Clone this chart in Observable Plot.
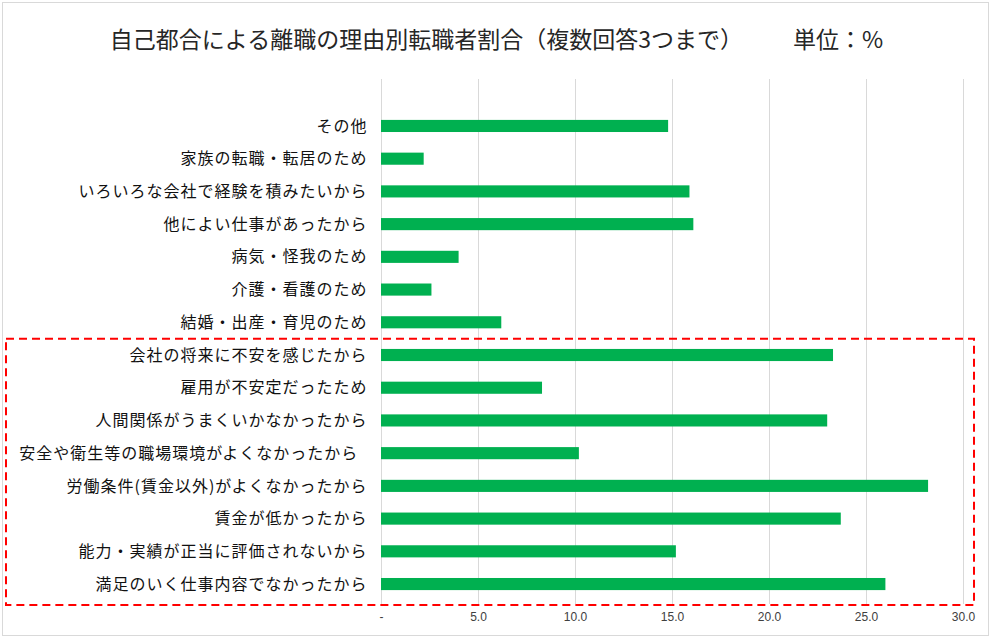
<!DOCTYPE html>
<html><head><meta charset="utf-8">
<script src="https://cdn.jsdelivr.net/npm/d3@7"></script>
<script src="https://cdn.jsdelivr.net/npm/@observablehq/plot@0.6"></script>
<style>
body{margin:0;background:#fff;}
#wrap{position:relative;width:993px;height:640px;overflow:hidden;background:#fff;}
#frame{position:absolute;left:2px;top:2px;width:987px;height:634px;border:1px solid #d9d9d9;box-sizing:border-box;pointer-events:none;}
#title{height:46px;padding-top:24px;text-align:center;font-family:"Noto Sans CJK JP",sans-serif;font-size:23px;line-height:28px;color:#262626;white-space:nowrap;}
#title .unit{margin-left:50px;}
#chart svg{display:block;}
</style>
</head><body>
<div id="wrap">
<div id="frame"></div>
<div id="title">自己都合による離職の理由別転職者割合（複数回答3つまで）<span class="unit">単位：%</span></div>
<div id="chart"></div>
</div>
<script>
const categories = [
  "その他",
  "家族の転職・転居のため",
  "いろいろな会社で経験を積みたいから",
  "他によい仕事があったから",
  "病気・怪我のため",
  "介護・看護のため",
  "結婚・出産・育児のため",
  "会社の将来に不安を感じたから",
  "雇用が不安定だったため",
  "人間関係がうまくいかなかったから",
  "安全や衛生等の職場環境がよくなかったから\u00a0\u00a0",
  "労働条件(賃金以外)がよくなかったから",
  "賃金が低かったから",
  "能力・実績が正当に評価されないから",
  "満足のいく仕事内容でなかったから"
];
const values = [14.8, 2.2, 15.9, 16.1, 4.0, 2.6, 6.2, 23.3, 8.3, 23.0, 10.2, 28.2, 23.7, 15.2, 26.0];
const highlighted = categories.slice(7);
const xTicks = [0, 5, 10, 15, 20, 25, 30];

const data = categories.map((c, i) => ({reason: c, value: values[i]}));

const chart = Plot.plot({
  width: 993,
  height: 570,
  marginTop: 9,
  marginBottom: 36,
  marginLeft: 381,
  marginRight: 30,
  style: {fontFamily: "'Noto Sans CJK JP', sans-serif", background: "transparent"},
  x: {domain: [0, 30], label: null},
  y: {domain: categories, range: [39.6, 530.4], paddingInner: 0.63, paddingOuter: 0.315, round: false, label: null},
  marks: [
    Plot.gridX(xTicks, {stroke: "#d9d9d9", strokeOpacity: 1, strokeWidth: 1}),
    Plot.barX(data, {x: "value", y: "reason", fill: "#00B050"}),
    Plot.axisX({ticks: xTicks, tickSize: 0, tickPadding: 8, fontSize: 12, fill: "#404040",
      tickFormat: d => d === 0 ? "-" : d.toFixed(1), label: null,
      fontFamily: "'Liberation Sans', 'Noto Sans', sans-serif"}),
    Plot.axisY({tickSize: 0, tickPadding: 14, fontSize: 16, fill: "#111", label: null})
  ]
});

// dashed highlight box around the highlighted group, derived from the y scale
const ys = chart.scale("y");
const gap = ys.step - ys.bandwidth;
const boxTop = ys.apply(highlighted[0]) - gap / 2;
const boxBottom = 570 - 36 + 1;
d3.select(chart).selectAll('[aria-label="y-axis tick label"] text').style("letter-spacing", "1px");
d3.select(chart).append("rect")
  .attr("x", 6).attr("y", boxTop)
  .attr("width", 968).attr("height", boxBottom - boxTop)
  .attr("fill", "none").attr("stroke", "#ff0000").attr("stroke-width", 2)
  .attr("stroke-dasharray", "8,5");

document.getElementById("chart").appendChild(chart);
</script>
</body></html>
